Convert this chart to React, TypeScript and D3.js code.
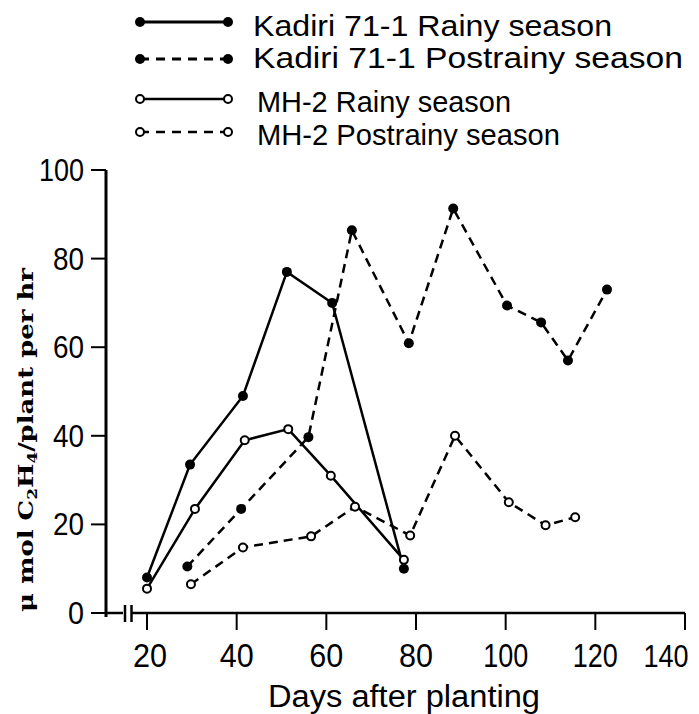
import * as d3 from 'd3';

// Days after planting (x) and acetylene reduction (y) per series
const kadiriRainyDays = [20, 29.6, 41.4, 51.2, 61.3, 77.3];
const kadiriRainyVals = [8, 33.5, 49, 77, 70, 10];

const kadiriPostDays = [29, 41, 56, 65.7, 78.4, 88.3, 100.3, 107.9, 113.9, 122.6];
const kadiriPostVals = [10.5, 23.5, 39.7, 86.4, 60.9, 91.3, 69.4, 65.6, 57, 73];

const mhRainyDays = [20, 30.7, 41.8, 51.5, 61, 77.3];
const mhRainyVals = [5.5, 23.5, 39, 41.5, 31, 12];

const mhPostDays = [29.8, 41.4, 56.6, 66.4, 78.7, 88.7, 100.7, 108.9, 115.5];
const mhPostVals = [6.5, 14.8, 17.3, 24, 17.5, 40, 25, 19.8, 21.6];

const xTicks = [20, 40, 60, 80, 100, 120, 140];
const yTicks = [0, 20, 40, 60, 80, 100];

const legendLabels = [
  'Kadiri 71-1 Rainy season',
  'Kadiri 71-1 Postrainy season',
  'MH-2 Rainy season',
  'MH-2 Postrainy season',
];

const W = 699;
const H = 714;
const font = "'Liberation Sans', Arial, sans-serif";

const x = d3.scaleLinear().domain([20, 140]).range([147, 685]);
const y = d3.scaleLinear().domain([0, 100]).range([613, 170]);
const axisX = 106;

interface SeriesDef {
  days: number[];
  vals: number[];
  dashed: boolean;
  filled: boolean;
}

const series: SeriesDef[] = [
  { days: kadiriRainyDays, vals: kadiriRainyVals, dashed: false, filled: true },
  { days: kadiriPostDays, vals: kadiriPostVals, dashed: true, filled: true },
  { days: mhRainyDays, vals: mhRainyVals, dashed: false, filled: false },
  { days: mhPostDays, vals: mhPostVals, dashed: true, filled: false },
];

const line = d3
  .line<[number, number]>()
  .x((d) => x(d[0]))
  .y((d) => y(d[1]));

function Marker({ cx, cy, filled }: { cx: number; cy: number; filled: boolean }) {
  return filled ? (
    <circle cx={cx} cy={cy} r={5} fill="#000" />
  ) : (
    <circle cx={cx} cy={cy} r={4} fill="#fff" stroke="#000" strokeWidth={2} />
  );
}

// legend layout: symbol row, text baseline, text width
const legendRows = [22, 59, 99, 132];
const legendBase = [36, 68, 112, 145];
const legendWidths = [359, 430, 254, 303];

export default function App() {
  return (
    <svg
      width={W}
      height={H}
      style={{ position: 'absolute', left: 0, top: 0, background: '#fff' }}
    >
      <rect width={W} height={H} fill="#fff" />

      {/* Legend */}
      {series.map((s, i) => (
        <g key={`lg${i}`}>
          <line
            x1={140}
            x2={228}
            y1={legendRows[i]}
            y2={legendRows[i]}
            stroke="#000"
            strokeWidth={i < 2 ? 3 : 2.5}
            strokeDasharray={s.dashed ? '9,7' : undefined}
          />
          <Marker cx={140} cy={legendRows[i]} filled={s.filled} />
          <Marker cx={228} cy={legendRows[i]} filled={s.filled} />
          <text
            x={i < 2 ? 253 : 257}
            y={legendBase[i]}
            fontFamily={font}
            fontSize={29}
            textLength={legendWidths[i]}
            lengthAdjust="spacingAndGlyphs"
          >
            {legendLabels[i]}
          </text>
        </g>
      ))}

      {/* Y axis */}
      <line x1={axisX} x2={axisX} y1={y(100)} y2={y(0) + 4} stroke="#000" strokeWidth={3} />
      {yTicks.map((t) => (
        <g key={`yt${t}`}>
          <line x1={91} x2={axisX} y1={y(t)} y2={y(t)} stroke="#000" strokeWidth={2} />
          <text
            x={84}
            y={y(t) + 11}
            textAnchor="end"
            fontFamily={font}
            fontSize={31}
            textLength={t === 100 ? 45 : t === 0 ? 16 : 31}
            lengthAdjust="spacingAndGlyphs"
          >
            {t}
          </text>
        </g>
      ))}

      {/* X axis with break */}
      <line x1={axisX} x2={123} y1={y(0)} y2={y(0)} stroke="#000" strokeWidth={2.5} />
      <line x1={125} x2={125} y1={605} y2={622} stroke="#000" strokeWidth={2.5} />
      <line x1={131.5} x2={131.5} y1={605} y2={622} stroke="#000" strokeWidth={2.5} />
      <line x1={131.5} x2={x(140)} y1={y(0)} y2={y(0)} stroke="#000" strokeWidth={2.5} />
      {xTicks.map((t) => (
        <g key={`xt${t}`}>
          <line x1={x(t)} x2={x(t)} y1={y(0)} y2={y(0) + 17} stroke="#000" strokeWidth={2} />
          <text
            x={t === 140 ? x(t) - 19 : x(t) + (t === 20 ? 3 : 0)}
            y={667}
            textAnchor="middle"
            fontFamily={font}
            fontSize={t === 140 ? 31 : 33}
            textLength={t >= 100 ? 45 : 34}
            lengthAdjust="spacingAndGlyphs"
          >
            {t}
          </text>
        </g>
      ))}

      <text
        x={268}
        y={707}
        fontFamily={font}
        fontSize={31}
        textLength={272}
        lengthAdjust="spacingAndGlyphs"
      >
        Days after planting
      </text>

      {/* Y axis title */}
      <text
        transform="translate(33,612) rotate(-90)"
        fontFamily="'DejaVu Serif', 'Liberation Serif', serif"
        fontWeight="bold"
        fontSize={20}
        textLength={344}
        lengthAdjust="spacingAndGlyphs"
      >
        μ mol C
        <tspan fontSize={13} dy={4}>2</tspan>
        <tspan dy={-4}>H</tspan>
        <tspan fontSize={13} dy={4}>4</tspan>
        <tspan dy={-4}>/plant per hr</tspan>
      </text>

      {/* Series */}
      {series.map((s, i) => {
        const pts = s.days.map((d, j) => [d, s.vals[j]] as [number, number]);
        return (
          <g key={`s${i}`}>
            <path
              d={line(pts) ?? ''}
              fill="none"
              stroke="#000"
              strokeWidth={2.5}
              strokeDasharray={s.dashed ? '9,6' : undefined}
            />
            {pts.map((p, j) => (
              <Marker key={j} cx={x(p[0])} cy={y(p[1])} filled={s.filled} />
            ))}
          </g>
        );
      })}
    </svg>
  );
}
